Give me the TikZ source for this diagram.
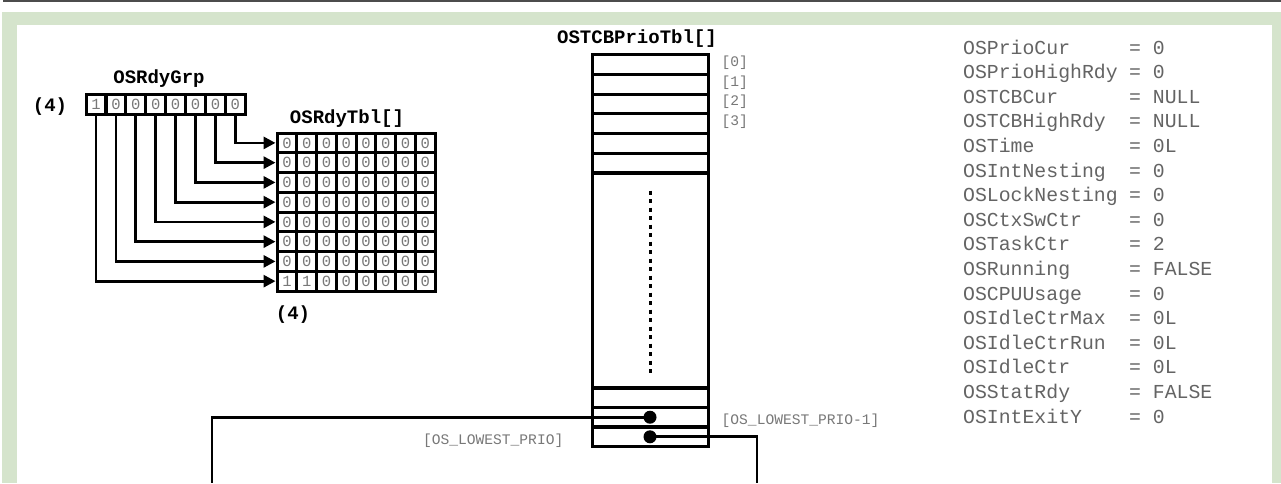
\documentclass[tikz,border=0pt]{standalone}
\usepackage{fontspec}
\setmonofont{Liberation Mono}
\usepackage{xcolor}
\usetikzlibrary{positioning,arrows.meta}
\definecolor{framegreen}{RGB}{213,228,204}
\definecolor{txtgray}{RGB}{100,100,100}
\definecolor{idxgray}{RGB}{120,120,120}

\begin{document}
\begin{tikzpicture}[x=1pt, y=-1pt,
  every node/.style={inner sep=0pt},
  head/.style={font=\ttfamily\bfseries\fontsize{19}{20}\selectfont},
  var/.style={font=\ttfamily\fontsize{19.8}{22}\selectfont, text=txtgray, anchor=base west},
  idx/.style={font=\ttfamily\fontsize{14.6}{16}\selectfont, text=idxgray},
  cell/.style={draw, line width=3pt, minimum size=19.75pt,
    font=\ttfamily\fontsize{15.5}{15}\selectfont, text=idxgray},
  slot/.style={draw, line width=3pt, minimum width=116pt, minimum height=19.67pt},
  link/.style={line width=2.8pt, -{Triangle[length=12pt,width=12pt]}},
  wire/.style={line width=2.8pt}]
  % --- frame ---
  \useasboundingbox (0,0) rectangle (1281,483);
  \fill[black!70] (3,0) rectangle (1281,1.8);
  \fill[framegreen] (2,12) rectangle (1281,483);
  \fill[white] (17,25) rectangle (1272,483);

  % --- OSRdyGrp ---
  \node[head] at (159,79) {OSRdyGrp};
  \node[head] at (50,107) {(4)};
  \foreach \i in {0,...,7} {
    \pgfmathtruncatemacro\bit{\i==0}
    \node[cell] (g\i) at (96+19.9*\i,104.5) {\raisebox{-3pt}{\bit}};
  }

  % --- OSRdyTbl[] ---
  \node[head] at (347,119) {OSRdyTbl[]};
  \foreach \r in {0,...,7}
    \foreach \c in {0,...,7} {
      \pgfmathtruncatemacro\bit{and(\r==7,\c<2)}
      \node[cell] (t\r\c) at (286.9+19.75*\c,142.9+19.75*\r) {\raisebox{-3pt}{\bit}};
    }
  \node[head] at (293,315) {(4)};

  % bit i of the group selects row 7-i
  \foreach \i in {0,...,7} {
    \pgfmathtruncatemacro\r{7-\i}
    \draw[link] (g\i.south) |- (t\r0.west);
  }

  % --- OSTCBPrioTbl[] ---
  \node[head] at (637,39) {OSTCBPrioTbl[]};
  \foreach \k in {0,...,5}
    \node[slot] (p\k) at (650,64.8+19.67*\k) {};
  \node[slot, minimum height=215pt] (pmid) at (650,280.5) {};
  \node[slot] (pa) at (650,397.5) {};
  \node[slot] (pb) at (650,417.2) {};
  \node[slot] (pc) at (650,436.8) {};
  \foreach \k in {0,...,3}
    \node[idx, right=12pt of p\k, yshift=2pt] {[\k]};
  \node[idx, right=12pt of pb, yshift=-4pt] {[OS\_LOWEST\_PRIO-1]};
  \node[idx, left=27pt of pc, yshift=-4pt] {[OS\_LOWEST\_PRIO]};
  \draw[line width=3pt, dash pattern=on 4pt off 4.5pt]
    ([yshift=-19pt]pmid.north) -- ([yshift=13pt]pmid.south);

  % pointers leaving the last two entries
  \coordinate (wl) at (212,483);
  \coordinate (wr) at (757,483);
  \draw[wire] (pb.center) -| (wl);
  \draw[wire] (pc.center) -| (wr);
  \fill (pb.center) circle (6.5);
  \fill (pc.center) circle (6.5);

  % --- kernel variables ---
  \foreach [count=\n from 0] \vname/\vval in {OSPrioCur/0, OSPrioHighRdy/0,
      OSTCBCur/NULL, OSTCBHighRdy/NULL, OSTime/0L, OSIntNesting/0,
      OSLockNesting/0, OSCtxSwCtr/0, OSTaskCtr/2, OSRunning/FALSE,
      OSCPUUsage/0, OSIdleCtrMax/0L, OSIdleCtrRun/0L, OSIdleCtr/0L,
      OSStatRdy/FALSE, OSIntExitY/0}
    \node[var] (v\n) at (963,54+24.6*\n) {\makebox[166pt][l]{\vname}= \vval};
\end{tikzpicture}
\end{document}
